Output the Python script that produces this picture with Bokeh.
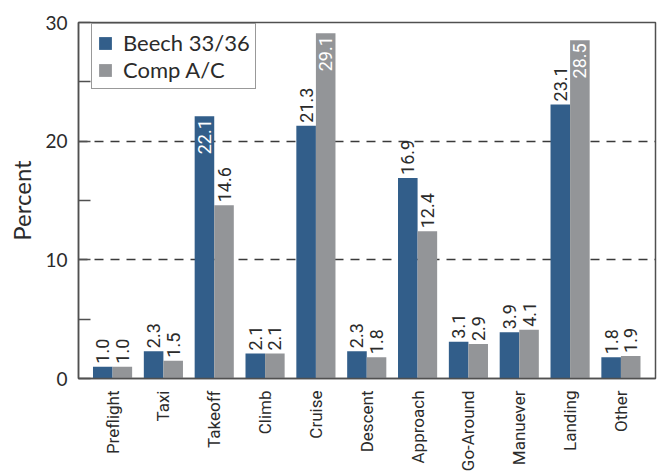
import math
from bokeh.plotting import figure
from bokeh.models import FixedTicker, ColumnDataSource, Range1d
from bokeh.core.properties import value
from bokeh.embed import file_html
from bokeh.resources import INLINE

categories = ["Preflight", "Taxi", "Takeoff", "Climb", "Cruise", "Descent",
              "Approach", "Go-Around", "Manuever", "Landing", "Other"]
beech = [1.0, 2.3, 22.1, 2.1, 21.3, 2.3, 16.9, 3.1, 3.9, 23.1, 1.8]
comp = [1.0, 1.5, 14.6, 2.1, 29.1, 1.8, 12.4, 2.9, 4.1, 28.5, 1.9]
series_names = ["Beech 33/36", "Comp A/C"]
y_ticks = [0, 10, 20, 30]
y_minor = [5, 15, 25]
# labels drawn inside the bar top (series index, category index)
inside = {(0, 2), (1, 4), (1, 9)}

BLUE = "#325e8a"
GRAY = "#939598"
DARK = "#2b2b2b"
LINE = "#505050"
MAIN_FONT = "Lato"
NARROW = "Roboto"

p = figure(width=657, height=474, output_backend="svg", toolbar_location=None,
           x_range=Range1d(-0.67, len(categories) - 1 + 0.68), y_range=Range1d(0, 30),
           min_border_left=78, min_border_right=2, min_border_top=22, min_border_bottom=95)

bw = 0.385
xs = list(range(len(categories)))
for si, (vals, col, name) in enumerate(zip([beech, comp], [BLUE, GRAY], series_names)):
    off = -bw / 2 if si == 0 else bw / 2
    src = ColumnDataSource(dict(x=[x + off for x in xs], top=vals))
    p.vbar(x="x", top="top", width=bw, source=src, fill_color=col, line_color=None,
           legend_label=name)
    out_x, out_y, out_t, in_x, in_y, in_t = [], [], [], [], [], []
    for i, v in enumerate(vals):
        if (si, i) in inside:
            in_x.append(i + off); in_y.append(v); in_t.append(f"{v:.1f}")
        else:
            out_x.append(i + off); out_y.append(v); out_t.append(f"{v:.1f}")
    p.text(x=out_x, y=out_y, text=out_t, angle=math.pi / 2, text_align="left",
           text_baseline="middle", y_offset=-3, text_color=DARK,
           text_font=value(NARROW), text_font_size="18px")
    if in_x:
        p.text(x=in_x, y=in_y, text=in_t, angle=math.pi / 2, text_align="right",
               text_baseline="middle", y_offset=3, text_color="white",
               text_font=value(NARROW), text_font_size="18px")

# axes
p.xaxis.ticker = FixedTicker(ticks=xs)
p.xaxis.major_label_overrides = {i: c for i, c in enumerate(categories)}
p.xaxis.major_label_orientation = math.pi / 2
p.xaxis.major_tick_line_color = None
p.xaxis.minor_tick_line_color = None
p.xaxis.major_label_text_font = NARROW
p.xaxis.major_label_text_font_size = "17px"
p.xaxis.major_label_text_color = DARK
p.xaxis.major_label_standoff = 6
p.xaxis.axis_line_color = LINE
p.xaxis.axis_line_width = 1.5

p.yaxis.ticker = FixedTicker(ticks=y_ticks, minor_ticks=y_minor)
p.yaxis.major_tick_in = 12
p.yaxis.major_tick_out = 0
p.yaxis.minor_tick_in = 12
p.yaxis.minor_tick_out = 0
p.yaxis.major_tick_line_color = LINE
p.yaxis.minor_tick_line_color = LINE
p.yaxis.major_tick_line_width = 1.3
p.yaxis.minor_tick_line_width = 1.3
p.yaxis.axis_line_color = LINE
p.yaxis.axis_line_width = 1.5
p.yaxis.major_label_text_font = MAIN_FONT
p.yaxis.major_label_text_font_size = "19px"
p.yaxis.major_label_text_color = DARK
p.yaxis.major_label_standoff = 11
p.yaxis.axis_label = "Percent"
p.yaxis.axis_label_text_font = MAIN_FONT
p.yaxis.axis_label_text_font_size = "24px"
p.yaxis.axis_label_text_font_style = "normal"
p.yaxis.axis_label_text_color = DARK
p.yaxis.axis_label_standoff = 6

p.xgrid.visible = False
p.ygrid.ticker = FixedTicker(ticks=[10, 20])
p.ygrid.grid_line_color = "#3a3a3a"
p.ygrid.grid_line_dash = "9 7"
p.ygrid.grid_line_width = 1.3

p.outline_line_color = LINE
p.outline_line_width = 1.5
p.background_fill_color = "white"
p.border_fill_color = "white"

lg = p.legend[0]
lg.location = (13, 289)
lg.margin = 0
lg.padding = 5
lg.spacing = 0
lg.glyph_width = 16
lg.glyph_height = 16
lg.label_standoff = 10
lg.label_text_font = MAIN_FONT
lg.label_text_font_size = "22px"
lg.label_text_color = DARK
lg.label_height = 23
lg.border_line_color = "#333333"
lg.border_line_width = 1.5
lg.background_fill_alpha = 1

open("out.html", "w").write(file_html(p, INLINE))
